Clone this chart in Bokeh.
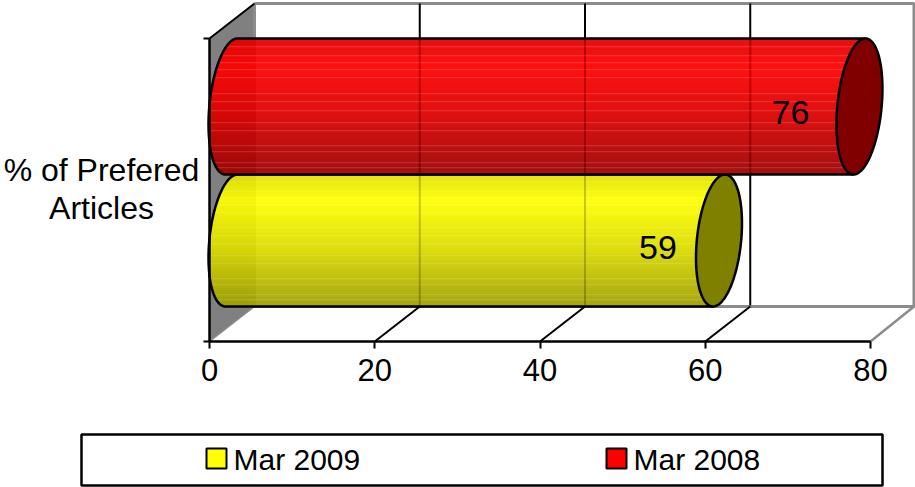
import numpy as np
from bokeh.embed import file_html
from bokeh.resources import INLINE
from bokeh.plotting import figure
from bokeh.models import Range1d, LinearAxis, FixedTicker
from bokeh.core.properties import value

# ---- data
categories = ["Mar 2009", "Mar 2008"]
values = [59, 76]
bar_colors = [(255, 255, 0), (255, 0, 0)]
cap_colors = ["#808000", "#800000"]
x_ticks = [0, 20, 40, 60, 80]
group_label = "% of Prefered\nArticles"

# ---- layout (screen scale of the value axis and the y pixel frame)
W, H = 915, 487
X0, PX = 209.0, 8.2625
Y_FRONT_TOP, Y_FRONT_BOT = 38, 341
DX, DY = 45.0, 35.0
Y_BACK_TOP, Y_BACK_BOT = 3, 306
bar_spans = [(174, 306), (38, 174)]
label_shift = [-39, -47]
label_dy = [7, 6]
FONT = value("Liberation Sans")
SIZE = "30px"
A, S, CX = 22.2, 6.0, 22.0
seam_fracs = [.06, .13, .18, .23, .29, .405, .465, .53, .62, .68, .79, .835, .915, .95]

u = lambda px: px / PX

p = figure(width=W, height=H, output_backend="svg", toolbar_location=None,
           x_range=Range1d(-X0 / PX, (W - X0) / PX), y_range=Range1d(H, 0),
           min_border=0, outline_line_color=None, x_axis_location=None, y_axis_location=None)
p.grid.visible = False
p.background_fill_color = "white"
p.border_fill_color = "white"

xmax = x_ticks[-1]
dxu = u(DX)

# left wall
p.patch([0, dxu, dxu, 0], [Y_FRONT_TOP, Y_BACK_TOP, Y_BACK_BOT, Y_FRONT_BOT], fill_color="#808080", fill_alpha=1, line_color=None)
# back wall frame
GR = "#8c8c8c"
rx = xmax + u(DX - 1.5)
p.line([dxu, rx, rx, dxu, dxu], [Y_BACK_TOP, Y_BACK_TOP, Y_BACK_BOT, Y_BACK_BOT, Y_BACK_TOP], line_color=GR, line_width=3)
p.line([0, dxu], [Y_FRONT_BOT, Y_BACK_BOT], line_color=GR, line_width=1.5)
p.line([xmax, rx], [Y_FRONT_BOT, Y_BACK_BOT], line_color=GR, line_width=2.5)
p.line([0, dxu], [Y_FRONT_TOP, Y_BACK_TOP], line_color="black", line_width=2)
# gridlines
inner = x_ticks[1:-1]
p.segment([t + dxu for t in inner], Y_BACK_TOP, [t + dxu for t in inner], Y_BACK_BOT - 1, line_color="black", line_width=2)
p.segment(inner, Y_FRONT_BOT, [t + dxu for t in inner], Y_BACK_BOT, line_color="black", line_width=2)


def cap_xy(v, cy, b, t):
    x = u(CX) + v + u(A) * np.cos(t) - u(S) * np.sin(t)
    return x, cy + b * np.sin(t)


for v, col, cap, (top, bot) in zip(values, bar_colors, cap_colors, bar_spans):
    cy, b = (top + bot) / 2, (bot - top) / 2
    ys = np.arange(top, bot) + 0.5
    f = (ys - top) / (bot - top)
    sn = (ys - cy) / b
    cs = np.sqrt(1 - sn ** 2)
    left = u(CX) - u(A) * cs - u(S) * sn
    right = u(CX) + v - u(S) * sn
    shade = np.interp(f, [0, .2, .55, 1], [.88, 1, .87, .62])
    cols = []
    seam_rows = {int(s * (bot - top)) for s in seam_fracs}
    for i, sh in enumerate(shade):
        c = np.array(col) * sh
        if i in seam_rows:
            c = c + (np.array([255, 255, 255]) - c) * .17
        cols.append("#%02x%02x%02x" % tuple(int(q) for q in c))
    p.hbar(y=ys, left=left, right=right, height=1.6, fill_color=cols, fill_alpha=1, line_color=None)
    # see-through of gridlines
    t = np.linspace(-np.pi / 2, -3 * np.pi / 2, 80)
    ox, oy = cap_xy(0, cy, b, t)
    for g in inner:
        if g + dxu < v + u(CX):
            p.segment(g + dxu, top + 1, g + dxu, min(bot, Y_BACK_BOT) - 1, line_color="black", line_width=2, line_alpha=.15)
    # outline of the body
    p.line(np.r_[v + u(CX + S), ox, v + u(CX - S)], np.r_[top, oy, bot], line_color="black", line_width=2.5)
    # end cap
    t = np.linspace(0, 2 * np.pi, 120)
    ex, ey = cap_xy(v, cy, b, t)
    p.patch(ex, ey, fill_color=cap, fill_alpha=1, line_color="black", line_width=2.5)

# value labels
p.text(x=values, y=[(a + b_) / 2 + d for (a, b_), d in zip(bar_spans, label_dy)], text=[str(v) for v in values],
       x_offset=label_shift, text_align="center", text_baseline="middle", text_font=FONT, text_font_size="34px", text_color="black")

# category label
p.text(x=[u(101 - X0)], y=[(Y_FRONT_TOP + Y_FRONT_BOT) / 2 - 1], text=[group_label], text_align="center", text_baseline="middle",
       text_font=FONT, text_font_size="32px", text_color="black", text_line_height=1.05)

# axes
xa = LinearAxis(fixed_location=Y_FRONT_BOT, ticker=FixedTicker(ticks=x_ticks), bounds=(0, xmax),
                major_tick_in=0, major_tick_out=7, minor_tick_out=0, minor_tick_in=0,
                axis_line_width=2.5, major_tick_line_width=2, axis_line_color="black", major_tick_line_color="black",
                major_label_text_font="Liberation Sans", major_label_text_font_size="31px", major_label_text_color="black",
                major_label_standoff=10)
p.add_layout(xa, "below")
ya = LinearAxis(fixed_location=0, ticker=FixedTicker(ticks=[Y_FRONT_TOP, Y_FRONT_BOT]), bounds=(Y_FRONT_TOP, Y_FRONT_BOT),
                major_tick_in=0, major_tick_out=6, minor_tick_out=0, minor_tick_in=0,
                axis_line_width=2.5, major_tick_line_width=2, axis_line_color="black", major_tick_line_color="black",
                major_label_overrides={Y_FRONT_TOP: "", Y_FRONT_BOT: ""}, major_label_text_font_size="1px")
p.add_layout(ya, "left")

# legend
LEG = (81, 882, 434, 485)
p.quad(left=[u(LEG[0] - X0)], right=[u(LEG[1] - X0)], top=[LEG[2]], bottom=[LEG[3]], fill_color="white", fill_alpha=1, line_color="black", line_width=2.5)
sw_x = [206, 606]
p.quad(left=[u(s - X0) for s in sw_x], right=[u(s + 20 - X0) for s in sw_x], top=448, bottom=468,
       fill_color=["#%02x%02x%02x" % c for c in bar_colors], fill_alpha=1, line_color="black", line_width=2)
p.text(x=[u(s + 27 - X0) for s in sw_x], y=459, text=categories, text_align="left", text_baseline="middle",
       text_font=FONT, text_font_size=SIZE, text_color="black")

open("out.html", "w").write(file_html(p, INLINE))
